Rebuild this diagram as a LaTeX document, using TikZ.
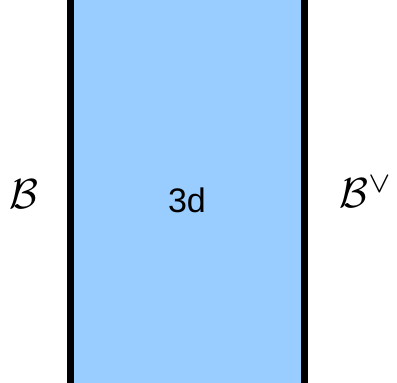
\documentclass[tikz,border=0pt]{standalone}
\usepackage{fontspec}
\newfontfamily\hv{Liberation Sans}
\definecolor{bulk}{RGB}{153,204,255}
\tikzset{
  wall/.style={line width=3.5pt, black},
  bnd/.style={scale=2.1, inner sep=0pt},
  lab/.style={font=\hv\fontsize{17}{20}\selectfont, inner sep=0pt}
}
\begin{document}
\begin{tikzpicture}[x=0.5pt,y=-0.5pt]
\useasboundingbox (0,0) rectangle (397,383);
\coordinate (lt) at (70,0);
\coordinate (lb) at (70,383);
\coordinate (rt) at (304,0);
\coordinate (rb) at (304,383);
\fill[bulk] (lt) rectangle (rb);
\draw[wall] (lt) -- (lb);
\draw[wall] (rt) -- (rb);
\node[lab] (bulk) at (187,200) {3d};
\node[bnd] (left) at (24,194) {$\mathcal{B}$};
\node[bnd, anchor=west] (right) at (339,192) {$\mathcal{B}^\vee$};
\end{tikzpicture}
\end{document}
